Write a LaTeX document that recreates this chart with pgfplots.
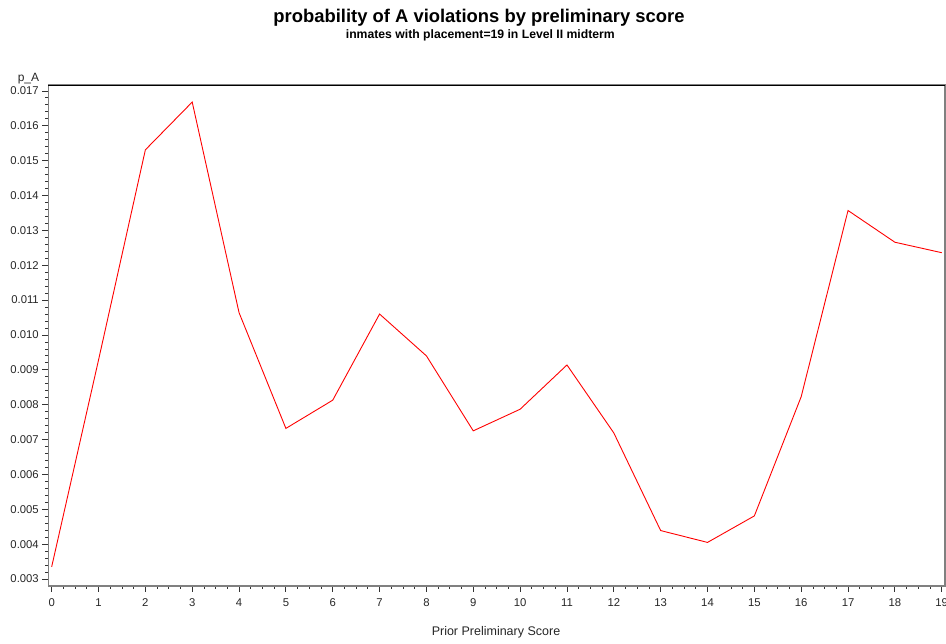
\documentclass[border=0pt]{standalone}
\usepackage{pgfplots}
\pgfplotsset{compat=1.18}
\usepackage{fontspec}
\setmainfont{Liberation Sans}
\begin{document}
\begin{tikzpicture}
\useasboundingbox (-48.3pt,-58pt) rectangle (897.7pt,586pt);
\begin{axis}[
  at={(0pt,0pt)}, anchor=south west,
  scale only axis,
  width=896.7pt, height=501pt,
  xmin=-0.072, xmax=19.07,
  ymin=0.0028, ymax=0.01717,
  xtick={0,...,19},
  ytick={0.003,0.004,...,0.0175},
  minor x tick num=3,
  minor y tick num=4,
  scaled y ticks=false,
  tick pos=left,
  tick align=outside,
  major tick length=6pt,
  minor tick length=3pt,
  every tick/.style={black!80, line width=0.8pt},
  axis line style={draw=gray, line width=1.3pt},
  yticklabel style={/pgf/number format/.cd, fixed, fixed zerofill, precision=3, assume math mode=true},
  xticklabel style={/pgf/number format/assume math mode=true, yshift=-3pt},
  ticklabel style={font=\fontsize{11.3}{13}\selectfont, text=black!85},
  clip=false,
]
\addplot[red, line width=0.9pt] coordinates {
(0,0.00335) (1,0.00928) (2,0.01531) (3,0.01668) (4,0.01064)
(5,0.00732) (6,0.00813) (7,0.01060) (8,0.00940) (9,0.00725)
(10,0.00787) (11,0.00914) (12,0.00719) (13,0.00439) (14,0.00405)
(15,0.00481) (16,0.00823) (17,0.01357) (18,0.01266) (19,0.01236)
};
\draw[black, line width=0.8pt] (rel axis cs:0,1) -- (rel axis cs:1,1);
\end{axis}
\node[anchor=base, font=\bfseries\fontsize{18.4}{21}\selectfont] at (430.7pt,563pt) {probability of A violations by preliminary score};
\node[anchor=base, font=\bfseries\fontsize{12.2}{14}\selectfont] at (432pt,547pt) {inmates with placement=19 in Level II midterm};
\node[anchor=base, font=\fontsize{12}{14}\selectfont, text=black!85] at (-19.8pt,504pt) {p\_A};
\node[anchor=base, font=\fontsize{12.5}{14}\selectfont, text=black!85] at (447.7pt,-50pt) {Prior Preliminary Score};
\end{tikzpicture}
\end{document}
